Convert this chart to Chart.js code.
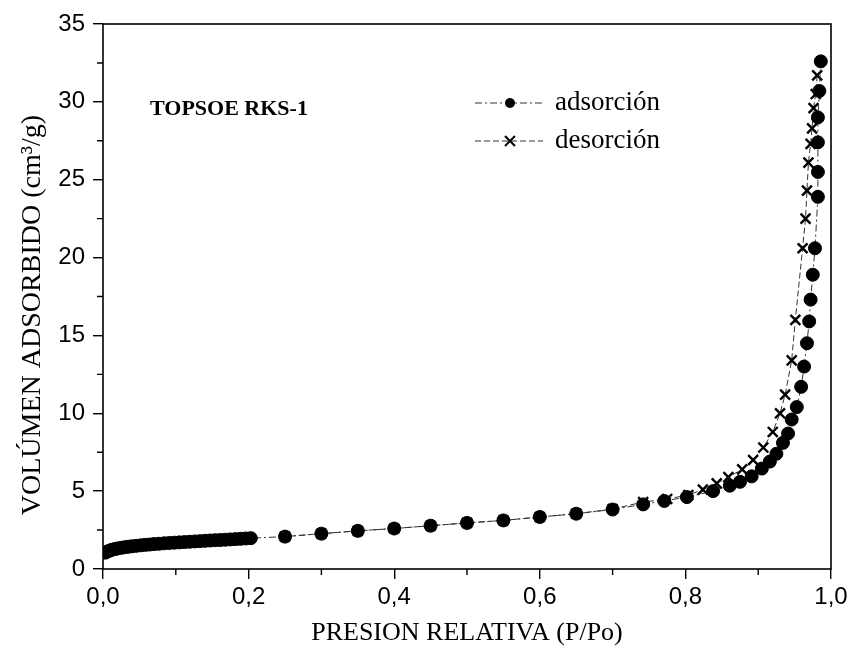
<!DOCTYPE html>
<html>
<head>
<meta charset="utf-8">
<script src="https://cdn.jsdelivr.net/npm/chart.js@4.4.1/dist/chart.umd.min.js"></script>
<style>
  html, body { margin: 0; padding: 0; background: #fff; }
  #wrap { width: 859px; height: 651px; }
</style>
</head>
<body>
<div id="wrap"><canvas id="chart" width="859" height="651"></canvas></div>
<script>
// adsorption branch
const adsP = [
  0.003, 0.006, 0.009, 0.012, 0.016, 0.02, 0.025, 0.03, 0.035, 0.04, 0.046, 0.052,
  0.058, 0.064, 0.07, 0.077, 0.084, 0.091, 0.098, 0.105, 0.112, 0.119, 0.126, 0.133,
  0.14, 0.147, 0.154, 0.161, 0.168, 0.175, 0.182, 0.189, 0.196, 0.203,
  0.25, 0.30, 0.35, 0.40, 0.45, 0.50, 0.55, 0.60, 0.65, 0.70, 0.742, 0.771, 0.802,
  0.838, 0.861, 0.875, 0.891, 0.905, 0.916, 0.925, 0.934, 0.941, 0.946, 0.953,
  0.959, 0.963, 0.967, 0.970, 0.972, 0.975, 0.978, 0.982, 0.982, 0.982, 0.982,
  0.984, 0.986,
];
const adsV = [
  1.05, 1.12, 1.18, 1.23, 1.28, 1.32, 1.36, 1.40, 1.43, 1.46, 1.49, 1.52,
  1.55, 1.57, 1.60, 1.62, 1.65, 1.67, 1.69, 1.71, 1.73, 1.75, 1.77, 1.79,
  1.81, 1.83, 1.85, 1.86, 1.88, 1.90, 1.92, 1.94, 1.96, 1.98,
  2.08, 2.27, 2.45, 2.60, 2.78, 2.96, 3.12, 3.34, 3.55, 3.82, 4.15, 4.37, 4.62,
  5.0, 5.35, 5.6, 5.95, 6.45, 6.9, 7.4, 8.1, 8.7, 9.6, 10.4,
  11.7, 13.0, 14.5, 15.9, 17.3, 18.9, 20.6, 23.9, 25.5, 27.4, 29.0,
  30.7, 32.6,
];

// desorption branch
const desP = [
  0.981, 0.979, 0.976, 0.974, 0.972, 0.969, 0.967, 0.965, 0.961, 0.951, 0.946,
  0.937, 0.930, 0.920, 0.907, 0.893, 0.878, 0.859, 0.843, 0.824, 0.804, 0.775,
  0.742, 0.70, 0.65, 0.60, 0.55, 0.50, 0.45, 0.40, 0.35, 0.30, 0.25,
];
const desV = [
  31.7, 30.5, 29.6, 28.3, 27.3, 26.1, 24.3, 22.5, 20.6, 16.0, 13.4,
  11.2, 10.0, 8.8, 7.8, 7.0, 6.4, 5.9, 5.5, 5.1, 4.75, 4.5,
  4.3, 3.85, 3.55, 3.34, 3.12, 2.96, 2.78, 2.60, 2.45, 2.27, 2.08,
];

const xTicks = [0, 0.2, 0.4, 0.6, 0.8, 1.0];
const xMinor = [0.1, 0.3, 0.5, 0.7, 0.9];
const yMinor = [2.5, 7.5, 12.5, 17.5, 22.5, 27.5, 32.5];

const seriesNames = ["adsorción", "desorción"];
const chartLabel = "TOPSOE RKS-1";
const yTitle = "VOLÚMEN ADSORBIDO (cm³/g)";

const SANS = "'Liberation Sans', Arial, sans-serif";
const SERIF = "'Liberation Serif', 'Times New Roman', serif";

const toPoints = (xs, ys) => xs.map((x, i) => ({ x, y: ys[i] }));

const adsDash = [7, 3, 2, 3];
const desDash = [6, 3];

// frame, minor ticks, y title, label and legend
const decorations = {
  id: "decorations",
  afterDraw(chart) {
    const { ctx, chartArea: a, scales } = chart;
    ctx.save();
    ctx.strokeStyle = "#000";
    ctx.lineWidth = 1.6;
    ctx.strokeRect(a.left, a.top, a.right - a.left, a.bottom - a.top);

    ctx.lineWidth = 1.4;
    ctx.beginPath();
    xMinor.forEach((v) => {
      const px = scales.x.getPixelForValue(v);
      ctx.moveTo(px, a.bottom);
      ctx.lineTo(px, a.bottom + 6);
    });
    yMinor.forEach((v) => {
      const py = scales.y.getPixelForValue(v);
      ctx.moveTo(a.left, py);
      ctx.lineTo(a.left - 6, py);
    });
    ctx.stroke();

    // y axis title sits a little below the middle in the original
    ctx.save();
    ctx.translate(33, 315);
    ctx.rotate(-Math.PI / 2);
    ctx.fillStyle = "#000";
    ctx.font = `28px ${SERIF}`;
    ctx.textAlign = "center";
    ctx.textBaseline = "middle";
    ctx.fillText(yTitle, 0, 0);
    ctx.restore();

    ctx.fillStyle = "#000";
    ctx.font = `bold 22px ${SERIF}`;
    ctx.textBaseline = "middle";
    ctx.fillText(chartLabel, 150, 109);

    // legend rows
    const rows = [
      { y: 103, dash: adsDash, marker: "circle", name: seriesNames[0] },
      { y: 141, dash: desDash, marker: "cross", name: seriesNames[1] },
    ];
    rows.forEach((row) => {
      ctx.strokeStyle = "#333";
      ctx.lineWidth = 1;
      ctx.setLineDash(row.dash);
      ctx.beginPath();
      ctx.moveTo(475, row.y);
      ctx.lineTo(543, row.y);
      ctx.stroke();
      ctx.setLineDash([]);
      if (row.marker === "circle") {
        ctx.fillStyle = "#000";
        ctx.beginPath();
        ctx.arc(510, row.y, 5, 0, Math.PI * 2);
        ctx.fill();
      } else {
        ctx.strokeStyle = "#000";
        ctx.lineWidth = 2;
        ctx.beginPath();
        ctx.moveTo(505, row.y - 5);
        ctx.lineTo(515, row.y + 5);
        ctx.moveTo(515, row.y - 5);
        ctx.lineTo(505, row.y + 5);
        ctx.stroke();
      }
      ctx.fillStyle = "#000";
      ctx.font = `27px ${SERIF}`;
      ctx.fillText(row.name, 555, row.y);
    });
    ctx.restore();
  },
};

new Chart(document.getElementById("chart"), {
  type: "scatter",
  data: {
    datasets: [
      {
        label: seriesNames[0],
        data: toPoints(adsP, adsV),
        showLine: true,
        borderColor: "#333",
        borderWidth: 1,
        borderDash: adsDash,
        pointStyle: "circle",
        pointRadius: 6.5,
        pointBackgroundColor: "#000",
        pointBorderColor: "#000",
        pointBorderWidth: 1,
      },
      {
        label: seriesNames[1],
        data: toPoints(desP, desV),
        showLine: true,
        borderColor: "#333",
        borderWidth: 1,
        borderDash: desDash,
        pointStyle: "crossRot",
        pointRadius: 7,
        pointBorderColor: "#000",
        pointBorderWidth: 2.4,
      },
    ],
  },
  options: {
    responsive: false,
    animation: false,
    layout: { padding: { top: 24, right: 28, left: 0, bottom: 0 } },
    plugins: {
      legend: { display: false },
      tooltip: { enabled: false },
    },
    scales: {
      x: {
        type: "linear",
        min: 0,
        max: 1,
        afterBuildTicks: (scale) => {
          scale.ticks = xTicks.map((value) => ({ value }));
        },
        afterFit: (scale) => {
          scale.height = 82;
        },
        ticks: {
          color: "#000",
          font: { family: SANS, size: 24 },
          padding: 4,
          maxRotation: 0,
          callback: (v) => Number(v).toFixed(1).replace(".", ","),
        },
        grid: { drawOnChartArea: false, tickLength: 10, color: "#000", lineWidth: 1.4 },
        border: { display: false },
        title: {
          display: true,
          text: "PRESION RELATIVA (P/Po)",
          color: "#000",
          font: { family: SERIF, size: 26 },
          padding: { top: 0, bottom: 2 },
        },
      },
      y: {
        type: "linear",
        min: 0,
        max: 35,
        afterFit: (scale) => {
          scale.width = 103;
        },
        ticks: {
          stepSize: 5,
          color: "#000",
          font: { family: SANS, size: 24 },
          padding: 8,
        },
        grid: { drawOnChartArea: false, tickLength: 10, color: "#000", lineWidth: 1.4 },
        border: { display: false },
      },
    },
  },
  plugins: [decorations],
});
</script>
</body>
</html>
